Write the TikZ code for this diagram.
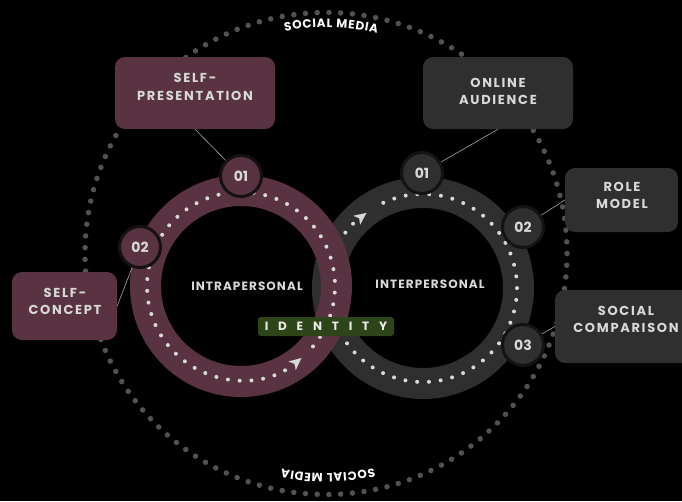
\documentclass[tikz,border=0pt]{standalone}
\usepackage{fontspec}
\setmainfont{Poppins}
\newfontfamily\boxfont[LetterSpace=13]{Poppins}
\newfontfamily\ringfont[LetterSpace=9]{Poppins}
\newfontfamily\tagfont[LetterSpace=82]{Poppins}
\usepackage{xcolor}
\usepackage{tikz}
\usetikzlibrary{positioning,arrows.meta,decorations.text}

\definecolor{plum}{HTML}{5A3342}
\definecolor{ash}{HTML}{2F2F2F}
\definecolor{moss}{HTML}{2D4519}
\definecolor{ink}{HTML}{161214}
\definecolor{chalk}{HTML}{D8D8D8}
\definecolor{pebble}{HTML}{525252}

\tikzset{
    topic/.style={rounded corners=10pt, inner sep=0pt},
    topictext/.style={text=chalk, align=center, inner sep=0pt,
        font=\boxfont\bfseries\fontsize{13}{17.5}\selectfont},
    ringband/.style={line width=31pt},
    ringdots/.style={draw=chalk, line width=4pt, line cap=round,
        dash pattern=on 0pt off 11.8pt},
    outerdots/.style={draw=pebble, line width=5.5pt, line cap=round,
        dash pattern=on 0pt off 11.74pt},
    badge/.style={circle, minimum size=41pt, inner sep=0pt, draw=ink,
        line width=3pt, text=chalk, font=\bfseries\fontsize{14}{14}\selectfont},
    ringlabel/.style={text=chalk, font=\ringfont\bfseries\fontsize{12}{12}\selectfont},
    link/.style={draw=gray!70, line width=0.6pt},
    flowtip/.style={-{Stealth[length=12pt, width=11pt, inset=3pt, line width=0.1pt]}},
    mediatext/.style={
        decorate,
        decoration={text effects along path, text={SOCIAL MEDIA}, text align=center,
            text effects/.cd, text along path,
            characters={text=white, inner xsep=0.35pt,
                font=\bfseries\fontsize{12}{12}\selectfont}}
    }
}

\begin{document}
\begin{tikzpicture}[x=1pt, y=-1pt]
    % background and frame
    \fill[black] (0,0) rectangle (682,501);
    \useasboundingbox (0,0) rectangle (682,501);

    \coordinate (media) at (326,253.5);
    \coordinate (intra) at (241,286);
    \coordinate (inter) at (423,288);

    % social media circle
    \draw[outerdots] (media) circle[radius=241];
    \path[mediatext] (media) ++(241.3:226) arc[start angle=241.3, end angle=301.3, radius=226];
    \path[mediatext] (media) ++(59.5:220) arc[start angle=59.5, end angle=119.5, radius=220];

    % interpersonal ring
    \draw[ringband, draw=ash] (inter) circle[radius=95.5];
    \draw[ringdots, flowtip] (inter) ++(-115:94) arc[start angle=-115, end angle=233, radius=94];

    % intrapersonal ring
    \draw[ringband, draw=plum] (intra) circle[radius=95.5];
    \draw[ringdots, flowtip] (intra) ++(400:94) arc[start angle=400, end angle=50, radius=94];

    \node[ringlabel] (intralabel) at (247,286) {INTRAPERSONAL};
    \node[ringlabel] (interlabel) at (430,284) {INTERPERSONAL};

    \node[
        fill=moss,
        rounded corners=3pt,
        minimum width=136pt,
        minimum height=19pt,
        inner sep=0pt,
        text=white!90!moss,
        font=\tagfont\bfseries\fontsize{12}{12}\selectfont
        ] (identity) at (326,326.5) {IDENTITY};

    % badges
    \node[badge, fill=plum] (intra1) at (241,176) {01};
    \node[badge, fill=plum] (intra2) at (140,247) {02};
    \node[badge, fill=ash] (inter1) at (422,173) {01};
    \node[badge, fill=ash] (inter2) at (523,227) {02};
    \node[badge, fill=ash] (inter3) at (523,345) {03};

    % topic boxes
    \node[topic, fill=plum, minimum width=160pt, minimum height=72pt] (selfpres) at (195,93) {};
    \node[topictext] (selfprestext) at (195,87) {SELF-\\PRESENTATION};
    \node[topic, fill=plum, minimum width=105pt, minimum height=68pt] (selfconc) at (64.5,306) {};
    \node[topictext] (selfconctext) at (65,301.5) {SELF-\\CONCEPT};
    \node[topic, fill=ash, minimum width=150pt, minimum height=72pt] (audience) at (498,93) {};
    \node[topictext] (audiencetext) at (498,91.5) {ONLINE\\AUDIENCE};
    \node[topic, fill=ash, minimum width=113pt, minimum height=64pt] (rolemodel) at (621.5,200) {};
    \node[topictext] (rolemodeltext) at (622,195.5) {ROLE\\MODEL};
    \node[topic, fill=ash, minimum width=145pt, minimum height=73pt] (comparison) at (627.5,326.5) {};
    \node[topictext] (comparisontext) at (626,319.5) {SOCIAL\\COMPARISON};

    % links
    \draw[link] (selfpres.south) -- (intra1);
    \draw[link] (selfconc.east) -- (intra2);
    \draw[link] (audience.south) -- (inter1);
    \draw[link] (rolemodel.west) -- (inter2);
    \draw[link] (comparison.west) -- (inter3);
\end{tikzpicture}
\end{document}
